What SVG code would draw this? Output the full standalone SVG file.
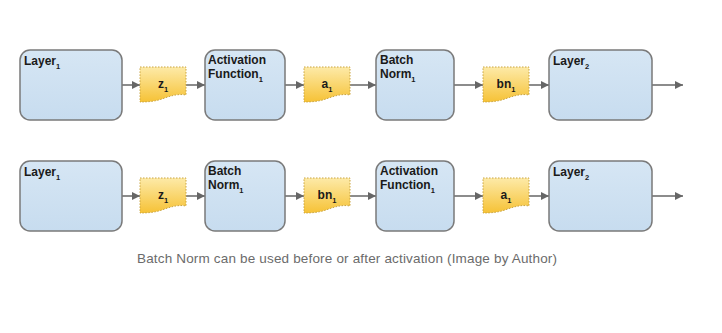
<svg xmlns="http://www.w3.org/2000/svg" width="722" height="333" viewBox="0 0 722 333">
<defs>
<linearGradient id="gBox" x1="0" y1="0" x2="0" y2="1">
<stop offset="0" stop-color="#d6e6f4"/>
<stop offset="1" stop-color="#c7dcef"/>
</linearGradient>
<linearGradient id="gDoc" x1="0" y1="0" x2="0" y2="1">
<stop offset="0" stop-color="#fdeaa8"/>
<stop offset="1" stop-color="#f6c236"/>
</linearGradient>
<marker id="arr" viewBox="0 0 10 10" refX="10" refY="5" markerWidth="8" markerHeight="8" markerUnits="userSpaceOnUse" orient="auto">
<path d="M0,0 L10,5 L0,10 Z" fill="#666"/>
</marker>
<path id="doc" d="M0,0 H46 V28 C38,26.5 30,29 22,32 C15,34.5 7,35 0,35 Z"/>
</defs>
<style>
.box{fill:url(#gBox);stroke:#7a7a7a;stroke-width:1.5}
.doc{fill:url(#gDoc);stroke:#c9a440;stroke-width:1;stroke-dasharray:1.5 1.5}
.lbl{font-family:"Liberation Sans",Arial,sans-serif;font-weight:bold;font-size:12px;fill:#1a1a1a}
.dl{font-family:"Liberation Sans",Arial,sans-serif;font-weight:bold;font-size:12px;fill:#1a1a1a;text-anchor:middle}
.sub{font-size:7.5px}
.con{stroke:#666;stroke-width:1.5;fill:none}
.cap{font-family:"Liberation Sans",Arial,sans-serif;font-size:13.5px;fill:#6b6b6b}
</style>
<rect width="722" height="333" fill="#ffffff"/>

<g id="connectors">
<line class="con" x1="122" y1="85" x2="140" y2="85" marker-end="url(#arr)"/>
<line class="con" x1="186" y1="85" x2="205" y2="85" marker-end="url(#arr)"/>
<line class="con" x1="285" y1="85" x2="304" y2="85" marker-end="url(#arr)"/>
<line class="con" x1="350" y1="85" x2="376" y2="85" marker-end="url(#arr)"/>
<line class="con" x1="454" y1="85" x2="483" y2="85" marker-end="url(#arr)"/>
<line class="con" x1="529" y1="85" x2="549" y2="85" marker-end="url(#arr)"/>
<line class="con" x1="652" y1="85" x2="683" y2="85" marker-end="url(#arr)"/>
<line class="con" x1="122" y1="196" x2="140" y2="196" marker-end="url(#arr)"/>
<line class="con" x1="186" y1="196" x2="205" y2="196" marker-end="url(#arr)"/>
<line class="con" x1="285" y1="196" x2="304" y2="196" marker-end="url(#arr)"/>
<line class="con" x1="350" y1="196" x2="376" y2="196" marker-end="url(#arr)"/>
<line class="con" x1="454" y1="196" x2="483" y2="196" marker-end="url(#arr)"/>
<line class="con" x1="529" y1="196" x2="549" y2="196" marker-end="url(#arr)"/>
<line class="con" x1="652" y1="196" x2="683" y2="196" marker-end="url(#arr)"/>
</g>

<!-- Row 1 -->
<g id="r1-layer1">
<rect class="box" x="20" y="50" width="102" height="70" rx="10"/>
<text class="lbl" x="24" y="65">Layer<tspan class="sub" dy="4">1</tspan></text>
</g>
<g id="r1-z1">
<use href="#doc" class="doc" transform="translate(140,67)"/>
<text class="dl" x="163" y="88">z<tspan class="sub" dy="4">1</tspan></text>
</g>
<g id="r1-act">
<rect class="box" x="205" y="50" width="80" height="70" rx="10"/>
<text class="lbl" x="208" y="64">Activation</text>
<text class="lbl" x="208" y="78">Function<tspan class="sub" dy="4">1</tspan></text>
</g>
<g id="r1-a1">
<use href="#doc" class="doc" transform="translate(304,67)"/>
<text class="dl" x="327" y="88">a<tspan class="sub" dy="4">1</tspan></text>
</g>
<g id="r1-bn">
<rect class="box" x="376" y="50" width="78" height="70" rx="10"/>
<text class="lbl" x="380" y="64">Batch</text>
<text class="lbl" x="380" y="78">Norm<tspan class="sub" dy="4">1</tspan></text>
</g>
<g id="r1-bn1">
<use href="#doc" class="doc" transform="translate(483,67)"/>
<text class="dl" x="506" y="88">bn<tspan class="sub" dy="4">1</tspan></text>
</g>
<g id="r1-layer2">
<rect class="box" x="549" y="50" width="103" height="70" rx="10"/>
<text class="lbl" x="553" y="65">Layer<tspan class="sub" dy="4">2</tspan></text>
</g>

<!-- Row 2 -->
<g id="r2-layer1">
<rect class="box" x="20" y="161" width="102" height="70" rx="10"/>
<text class="lbl" x="24" y="176">Layer<tspan class="sub" dy="4">1</tspan></text>
</g>
<g id="r2-z1">
<use href="#doc" class="doc" transform="translate(140,178)"/>
<text class="dl" x="163" y="199">z<tspan class="sub" dy="4">1</tspan></text>
</g>
<g id="r2-bn">
<rect class="box" x="205" y="161" width="80" height="70" rx="10"/>
<text class="lbl" x="208" y="175">Batch</text>
<text class="lbl" x="208" y="189">Norm<tspan class="sub" dy="4">1</tspan></text>
</g>
<g id="r2-bn1">
<use href="#doc" class="doc" transform="translate(304,178)"/>
<text class="dl" x="327" y="199">bn<tspan class="sub" dy="4">1</tspan></text>
</g>
<g id="r2-act">
<rect class="box" x="376" y="161" width="78" height="70" rx="10"/>
<text class="lbl" x="380" y="175">Activation</text>
<text class="lbl" x="380" y="189">Function<tspan class="sub" dy="4">1</tspan></text>
</g>
<g id="r2-a1">
<use href="#doc" class="doc" transform="translate(483,178)"/>
<text class="dl" x="506" y="199">a<tspan class="sub" dy="4">1</tspan></text>
</g>
<g id="r2-layer2">
<rect class="box" x="549" y="161" width="103" height="70" rx="10"/>
<text class="lbl" x="553" y="176">Layer<tspan class="sub" dy="4">2</tspan></text>
</g>

<text class="cap" x="137" y="263" textLength="420" lengthAdjust="spacing">Batch Norm can be used before or after activation (Image by Author)</text>
</svg>
